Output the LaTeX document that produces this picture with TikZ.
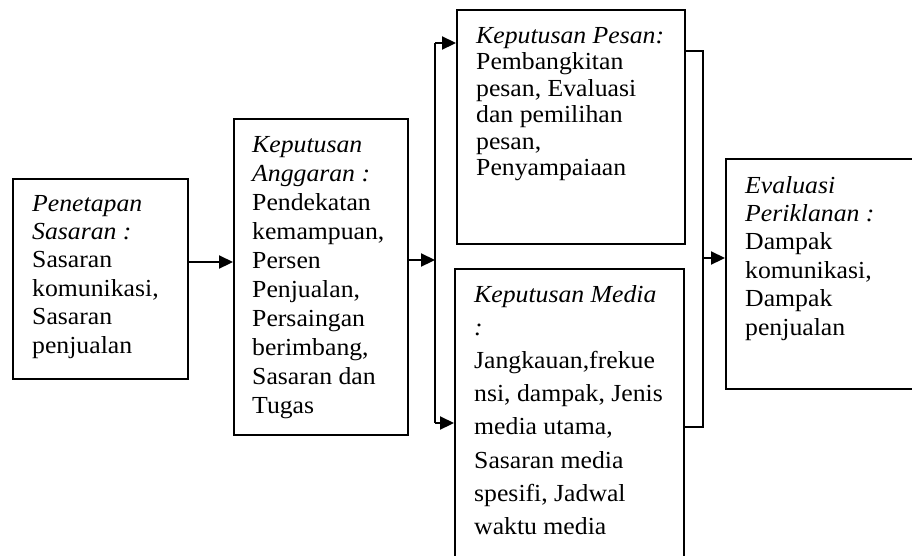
\documentclass[tikz,border=0pt]{standalone}
\usepackage{fontspec}
\setmainfont[FakeStretch=1.05]{Liberation Serif}
\usetikzlibrary{arrows.meta}
\tikzset{
  boxnode/.style={draw=black, line width=2.2pt, inner sep=0pt, anchor=north west},
  txtnode/.style={inner sep=0pt, anchor=base west, align=left},
  conn/.style={line width=2.2pt},
  arr/.style={line width=2.2pt, -{Triangle[length=14pt,width=13pt]}}
}
\newcommand{\boxtext}[3]{\parbox[t]{#1}{\fontsize{24.5pt}{#2}\selectfont #3}}
\begin{document}
\begin{tikzpicture}[x=1pt,y=-1pt]
\useasboundingbox (0,0) rectangle (912,555);
\clip (0,0) rectangle (912,555);
% boxes
\node[boxnode, minimum width=175pt, minimum height=200pt] (b1) at (12,178) {};
\node[boxnode, minimum width=174pt, minimum height=316pt] (b2) at (233,118) {};
\node[boxnode, minimum width=228pt, minimum height=234pt] (b3) at (456,9) {};
\node[boxnode, minimum width=229pt, minimum height=320pt] (b4) at (454,268) {};
\node[boxnode, minimum width=220pt, minimum height=230pt] (b5) at (725,158) {};
% texts
\node[txtnode] (t1) at (32,211) {\boxtext{150pt}{28.4pt}{\textit{Penetapan}\\ \textit{Sasaran :}\\ Sasaran\\ komunikasi,\\ Sasaran\\ penjualan}};
\node[txtnode] (t2) at (252,152) {\boxtext{150pt}{29pt}{\textit{Keputusan}\\ \textit{Anggaran :}\\ Pendekatan\\ kemampuan,\\ Persen\\ Penjualan,\\ Persaingan\\ berimbang,\\ Sasaran dan\\ Tugas}};
\node[txtnode] (t3) at (476,43) {\boxtext{200pt}{26.5pt}{\textit{Keputusan Pesan:}\\ Pembangkitan\\ pesan, Evaluasi\\ dan pemilihan\\ pesan,\\ Penyampaiaan}};
\node[txtnode] (t4) at (474,302) {\boxtext{200pt}{33.2pt}{\textit{Keputusan Media}\\ \textit{:}\\ Jangkauan,frekue\\ nsi, dampak, Jenis\\ media utama,\\ Sasaran media\\ spesifi, Jadwal\\ waktu media}};
\node[txtnode] (t5) at (745,193) {\boxtext{160pt}{28.4pt}{\textit{Evaluasi}\\ \textit{Periklanan :}\\ Dampak\\ komunikasi,\\ Dampak\\ penjualan}};
% connectors
\coordinate (a1) at (187,262);
\draw[arr] (a1 -| b1.east) -- (a1 -| b2.west);
\coordinate (j1) at (435,260);
\draw[arr] (j1 -| b2.east) -- (j1);
\coordinate (bt) at (435,43);
\coordinate (bb) at (435,423);
\draw[conn] (bt) -- (bb);
\draw[arr] (bt) -- (bt -| b3.west);
\draw[arr] (bb) -- (bb -| b4.west);
\coordinate (rt) at (703,51);
\coordinate (rb) at (703,427);
\draw[conn] (rt -| b3.east) -- (rt) -- (rb) -- (rb -| b4.east);
\coordinate (rm) at (703,258);
\draw[arr] (rm) -- (rm -| b5.west);
\end{tikzpicture}
\end{document}
